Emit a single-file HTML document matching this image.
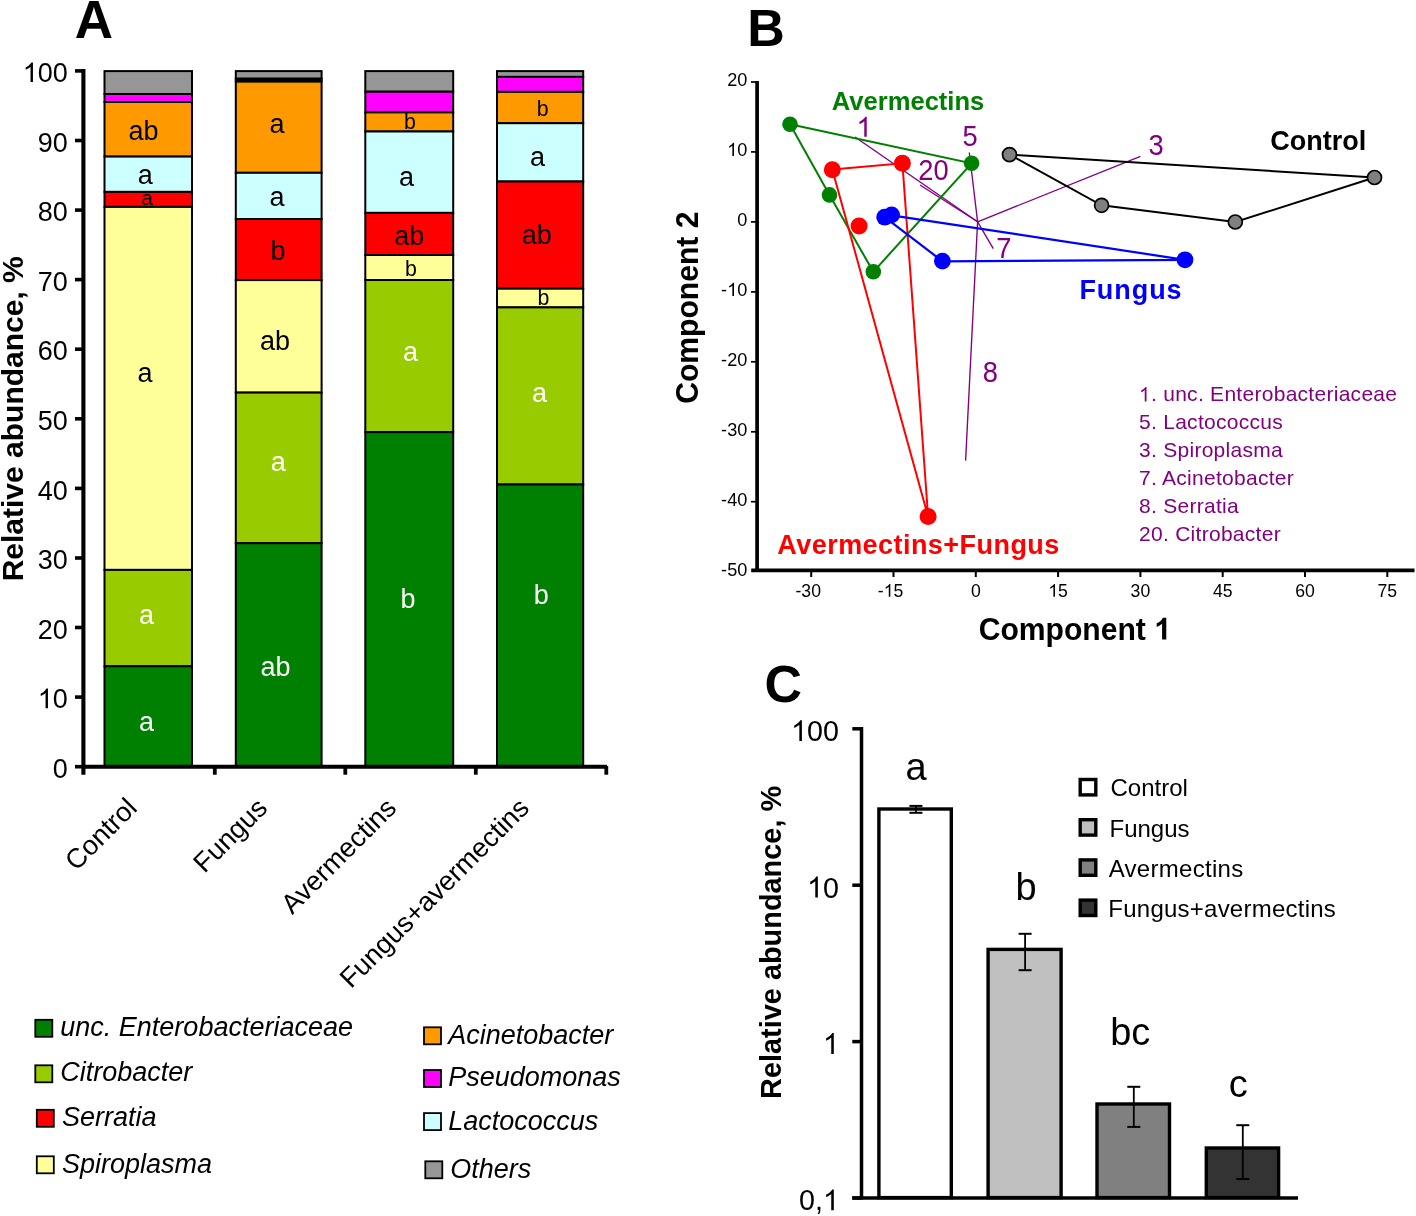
<!DOCTYPE html>
<html><head><meta charset="utf-8"><style>
html,body{margin:0;padding:0;background:#fff;}
body{width:1416px;height:1216px;overflow:hidden;}
svg{display:block;font-family:"Liberation Sans", sans-serif;will-change:transform;}
</style></head><body>
<svg width="1416" height="1216" viewBox="0 0 1416 1216">
<rect width="1416" height="1216" fill="#fff"/>
<rect x="104.5" y="71.1" width="87.5" height="22.9" fill="#969696" stroke="#000" stroke-width="2"/>
<rect x="104.5" y="94.0" width="87.5" height="8.0" fill="#FF00FF" stroke="#000" stroke-width="2"/>
<rect x="104.5" y="102.0" width="87.5" height="54.6" fill="#FF9900" stroke="#000" stroke-width="2"/>
<rect x="104.5" y="156.6" width="87.5" height="35.3" fill="#CCFFFF" stroke="#000" stroke-width="2"/>
<rect x="104.5" y="191.9" width="87.5" height="15.0" fill="#FF0000" stroke="#000" stroke-width="2"/>
<rect x="104.5" y="206.9" width="87.5" height="363.0" fill="#FFFF99" stroke="#000" stroke-width="2"/>
<rect x="104.5" y="569.9" width="87.5" height="96.4" fill="#99CC00" stroke="#000" stroke-width="2"/>
<rect x="104.5" y="666.3" width="87.5" height="99.7" fill="#008000" stroke="#000" stroke-width="2"/>
<rect x="235.8" y="71.1" width="85.8" height="7.7" fill="#969696" stroke="#000" stroke-width="2"/>
<rect x="235.8" y="78.8" width="85.8" height="2.6" fill="#FF00FF" stroke="#000" stroke-width="2"/>
<rect x="235.8" y="81.4" width="85.8" height="91.4" fill="#FF9900" stroke="#000" stroke-width="2"/>
<rect x="235.8" y="172.8" width="85.8" height="46.2" fill="#CCFFFF" stroke="#000" stroke-width="2"/>
<rect x="235.8" y="219.0" width="85.8" height="61.1" fill="#FF0000" stroke="#000" stroke-width="2"/>
<rect x="235.8" y="280.1" width="85.8" height="112.5" fill="#FFFF99" stroke="#000" stroke-width="2"/>
<rect x="235.8" y="392.6" width="85.8" height="150.6" fill="#99CC00" stroke="#000" stroke-width="2"/>
<rect x="235.8" y="543.2" width="85.8" height="222.8" fill="#008000" stroke="#000" stroke-width="2"/>
<rect x="235.8" y="77.8" width="85.8" height="4.6" fill="#000"/>
<rect x="365.3" y="71.1" width="87.9" height="20.6" fill="#969696" stroke="#000" stroke-width="2"/>
<rect x="365.3" y="91.7" width="87.9" height="20.7" fill="#FF00FF" stroke="#000" stroke-width="2"/>
<rect x="365.3" y="112.4" width="87.9" height="19.1" fill="#FF9900" stroke="#000" stroke-width="2"/>
<rect x="365.3" y="131.5" width="87.9" height="81.4" fill="#CCFFFF" stroke="#000" stroke-width="2"/>
<rect x="365.3" y="212.9" width="87.9" height="42.1" fill="#FF0000" stroke="#000" stroke-width="2"/>
<rect x="365.3" y="255.0" width="87.9" height="25.0" fill="#FFFF99" stroke="#000" stroke-width="2"/>
<rect x="365.3" y="280.0" width="87.9" height="152.1" fill="#99CC00" stroke="#000" stroke-width="2"/>
<rect x="365.3" y="432.1" width="87.9" height="333.9" fill="#008000" stroke="#000" stroke-width="2"/>
<rect x="497.0" y="71.1" width="86.2" height="5.8" fill="#969696" stroke="#000" stroke-width="2"/>
<rect x="497.0" y="76.9" width="86.2" height="15.0" fill="#FF00FF" stroke="#000" stroke-width="2"/>
<rect x="497.0" y="91.9" width="86.2" height="31.3" fill="#FF9900" stroke="#000" stroke-width="2"/>
<rect x="497.0" y="123.2" width="86.2" height="58.3" fill="#CCFFFF" stroke="#000" stroke-width="2"/>
<rect x="497.0" y="181.5" width="86.2" height="107.2" fill="#FF0000" stroke="#000" stroke-width="2"/>
<rect x="497.0" y="288.7" width="86.2" height="18.7" fill="#FFFF99" stroke="#000" stroke-width="2"/>
<rect x="497.0" y="307.4" width="86.2" height="177.1" fill="#99CC00" stroke="#000" stroke-width="2"/>
<rect x="497.0" y="484.5" width="86.2" height="281.5" fill="#008000" stroke="#000" stroke-width="2"/>
<text x="143.5" y="140.3" font-size="27" fill="#000" text-anchor="middle" >ab</text>
<text x="145.3" y="183.6" font-size="27" fill="#000" text-anchor="middle" >a</text>
<text x="147" y="205.2" font-size="21" fill="#000" text-anchor="middle" >a</text>
<text x="145" y="381.5" font-size="27" fill="#000" text-anchor="middle" >a</text>
<text x="146.6" y="624.2" font-size="27" fill="#fff" text-anchor="middle" >a</text>
<text x="146.6" y="730.7" font-size="27" fill="#fff" text-anchor="middle" >a</text>
<text x="277" y="132.8" font-size="27" fill="#000" text-anchor="middle" >a</text>
<text x="277" y="206.4" font-size="27" fill="#000" text-anchor="middle" >a</text>
<text x="278" y="259.9" font-size="27" fill="#000" text-anchor="middle" >b</text>
<text x="275" y="349.9" font-size="27" fill="#000" text-anchor="middle" >ab</text>
<text x="278.3" y="470.8" font-size="27" fill="#fff" text-anchor="middle" >a</text>
<text x="275.5" y="675.5" font-size="27" fill="#fff" text-anchor="middle" >ab</text>
<text x="409.9" y="128.7" font-size="21.3" fill="#000" text-anchor="middle" >b</text>
<text x="406.6" y="185.6" font-size="27" fill="#000" text-anchor="middle" >a</text>
<text x="409.2" y="245.1" font-size="27" fill="#000" text-anchor="middle" >ab</text>
<text x="411" y="275.6" font-size="21.3" fill="#000" text-anchor="middle" >b</text>
<text x="410.5" y="361.1" font-size="27" fill="#fff" text-anchor="middle" >a</text>
<text x="407.9" y="608.4" font-size="27" fill="#fff" text-anchor="middle" >b</text>
<text x="542.7" y="116.1" font-size="21.3" fill="#000" text-anchor="middle" >b</text>
<text x="537.6" y="165.8" font-size="27" fill="#000" text-anchor="middle" >a</text>
<text x="536.8" y="244.4" font-size="27" fill="#000" text-anchor="middle" >ab</text>
<text x="543.4" y="304.5" font-size="21.3" fill="#000" text-anchor="middle" >b</text>
<text x="539.5" y="401.9" font-size="27" fill="#fff" text-anchor="middle" >a</text>
<text x="541.3" y="603.9" font-size="27" fill="#fff" text-anchor="middle" >b</text>
<line x1="83.4" y1="69" x2="83.4" y2="774.7" stroke="#000" stroke-width="4.1"/>
<line x1="81.8" y1="766.7" x2="607" y2="766.7" stroke="#000" stroke-width="3.9"/>
<line x1="75" y1="766.7" x2="84" y2="766.7" stroke="#000" stroke-width="3.6"/>
<text transform="translate(67.8,777.9000000000001) scale(0.955,1)" x="0" y="0" font-size="28.28" fill="#000" text-anchor="end" >0</text>
<line x1="75" y1="697.1" x2="84" y2="697.1" stroke="#000" stroke-width="3.6"/>
<g transform="translate(67.8,708.32) scale(0.955,1)"><text x="0" y="0" font-size="28.28" fill="#000" text-anchor="end" > 0</text><path transform="translate(-31.46,0) scale(0.01401,-0.01338)" d="M763,0L583,0L583,1147Q518,1085 465,1054Q412,1023 359.5,992Q307,961 223,930L223,1104Q374,1175 430.5,1225.5Q487,1276 543.5,1326.5Q600,1377 647,1472L763,1472Z" fill="#000"/></g>
<line x1="75" y1="627.5" x2="84" y2="627.5" stroke="#000" stroke-width="3.6"/>
<text transform="translate(67.8,638.7400000000001) scale(0.955,1)" x="0" y="0" font-size="28.28" fill="#000" text-anchor="end" >20</text>
<line x1="75" y1="558.0" x2="84" y2="558.0" stroke="#000" stroke-width="3.6"/>
<text transform="translate(67.8,569.1600000000001) scale(0.955,1)" x="0" y="0" font-size="28.28" fill="#000" text-anchor="end" >30</text>
<line x1="75" y1="488.4" x2="84" y2="488.4" stroke="#000" stroke-width="3.6"/>
<text transform="translate(67.8,499.58000000000004) scale(0.955,1)" x="0" y="0" font-size="28.28" fill="#000" text-anchor="end" >40</text>
<line x1="75" y1="418.8" x2="84" y2="418.8" stroke="#000" stroke-width="3.6"/>
<text transform="translate(67.8,430.00000000000006) scale(0.955,1)" x="0" y="0" font-size="28.28" fill="#000" text-anchor="end" >50</text>
<line x1="75" y1="349.2" x2="84" y2="349.2" stroke="#000" stroke-width="3.6"/>
<text transform="translate(67.8,360.42) scale(0.955,1)" x="0" y="0" font-size="28.28" fill="#000" text-anchor="end" >60</text>
<line x1="75" y1="279.6" x2="84" y2="279.6" stroke="#000" stroke-width="3.6"/>
<text transform="translate(67.8,290.84000000000003) scale(0.955,1)" x="0" y="0" font-size="28.28" fill="#000" text-anchor="end" >70</text>
<line x1="75" y1="210.1" x2="84" y2="210.1" stroke="#000" stroke-width="3.6"/>
<text transform="translate(67.8,221.26000000000005) scale(0.955,1)" x="0" y="0" font-size="28.28" fill="#000" text-anchor="end" >80</text>
<line x1="75" y1="140.5" x2="84" y2="140.5" stroke="#000" stroke-width="3.6"/>
<text transform="translate(67.8,151.68) scale(0.955,1)" x="0" y="0" font-size="28.28" fill="#000" text-anchor="end" >90</text>
<line x1="75" y1="70.9" x2="84" y2="70.9" stroke="#000" stroke-width="3.6"/>
<g transform="translate(67.8,82.1000000000001) scale(0.955,1)"><text x="0" y="0" font-size="28.28" fill="#000" text-anchor="end" > 00</text><path transform="translate(-47.18,0) scale(0.01401,-0.01338)" d="M763,0L583,0L583,1147Q518,1085 465,1054Q412,1023 359.5,992Q307,961 223,930L223,1104Q374,1175 430.5,1225.5Q487,1276 543.5,1326.5Q600,1377 647,1472L763,1472Z" fill="#000"/></g>
<line x1="214.8" y1="766" x2="214.8" y2="774.7" stroke="#000" stroke-width="3.8"/>
<line x1="345.3" y1="766" x2="345.3" y2="774.7" stroke="#000" stroke-width="3.8"/>
<line x1="475.8" y1="766" x2="475.8" y2="774.7" stroke="#000" stroke-width="3.8"/>
<line x1="606.3" y1="766" x2="606.3" y2="774.7" stroke="#000" stroke-width="3.8"/>
<text transform="translate(23.4,418.8) rotate(-90)" font-size="30" font-weight="bold" text-anchor="middle">Relative abundance, %</text>
<text x="76" y="37.7" font-size="53" fill="#000" text-anchor="start" font-weight="bold" dx="-1.3">A</text>
<text transform="translate(138.5,809.5) rotate(-45)" font-size="27.3" text-anchor="end">Control</text>
<text transform="translate(269,809.5) rotate(-45)" font-size="27.3" text-anchor="end">Fungus</text>
<text transform="translate(398,809.5) rotate(-45)" font-size="27.3" text-anchor="end">Avermectins</text>
<text transform="translate(530.7,809.5) rotate(-45)" font-size="27.3" text-anchor="end">Fungus+avermectins</text>
<rect x="35.3" y="1019.8" width="17" height="17" fill="#008000" stroke="#000" stroke-width="1.8"/>
<text x="60.3" y="1036.2" font-size="27" fill="#000" text-anchor="start" font-style="italic" >unc. Enterobacteriaceae</text>
<rect x="35.3" y="1065.3" width="17" height="17" fill="#99CC00" stroke="#000" stroke-width="1.8"/>
<text x="60.3" y="1081.4" font-size="27" fill="#000" text-anchor="start" font-style="italic" >Citrobacter</text>
<rect x="36.8" y="1109.8" width="17" height="17" fill="#FF0000" stroke="#000" stroke-width="1.8"/>
<text x="61.9" y="1125.8" font-size="27" fill="#000" text-anchor="start" font-style="italic" >Serratia</text>
<rect x="36.8" y="1156.3" width="17" height="17" fill="#FFFF99" stroke="#000" stroke-width="1.8"/>
<text x="61.9" y="1172.7" font-size="27" fill="#000" text-anchor="start" font-style="italic" >Spiroplasma</text>
<rect x="424.0" y="1027.3" width="17" height="17" fill="#FF9900" stroke="#000" stroke-width="1.8"/>
<text x="448.2" y="1044.4" font-size="27" fill="#000" text-anchor="start" font-style="italic" >Acinetobacter</text>
<rect x="424.0" y="1070.0" width="17" height="17" fill="#FF00FF" stroke="#000" stroke-width="1.8"/>
<text x="448.2" y="1086.3" font-size="27" fill="#000" text-anchor="start" font-style="italic" >Pseudomonas</text>
<rect x="424.0" y="1113.1" width="17" height="17" fill="#CCFFFF" stroke="#000" stroke-width="1.8"/>
<text x="448.2" y="1130" font-size="27" fill="#000" text-anchor="start" font-style="italic" >Lactococcus</text>
<rect x="425.3" y="1161.3" width="17" height="17" fill="#969696" stroke="#000" stroke-width="1.8"/>
<text x="450.3" y="1177.6" font-size="27" fill="#000" text-anchor="start" font-style="italic" >Others</text>
<text x="747.3" y="45.5" font-size="52" fill="#000" text-anchor="start" font-weight="bold" >B</text>
<line x1="757.1" y1="81" x2="757.1" y2="572" stroke="#000" stroke-width="3.7"/>
<line x1="751.2" y1="570.4" x2="1414.5" y2="570.4" stroke="#000" stroke-width="3.6"/>
<line x1="751" y1="82.0" x2="757" y2="82.0" stroke="#000" stroke-width="1.7"/>
<text transform="translate(747.3,86.1) scale(0.955,1)" x="0" y="0" font-size="18.99" fill="#000" text-anchor="end" >20</text>
<line x1="751" y1="151.9" x2="757" y2="151.9" stroke="#000" stroke-width="1.7"/>
<g transform="translate(747.3,156.04999999999998) scale(0.955,1)"><text x="0" y="0" font-size="18.99" fill="#000" text-anchor="end" > 0</text><path transform="translate(-21.12,0) scale(0.00941,-0.00898)" d="M763,0L583,0L583,1147Q518,1085 465,1054Q412,1023 359.5,992Q307,961 223,930L223,1104Q374,1175 430.5,1225.5Q487,1276 543.5,1326.5Q600,1377 647,1472L763,1472Z" fill="#000"/></g>
<line x1="751" y1="221.9" x2="757" y2="221.9" stroke="#000" stroke-width="1.7"/>
<text transform="translate(747.3,226.0) scale(0.955,1)" x="0" y="0" font-size="18.99" fill="#000" text-anchor="end" >0</text>
<line x1="751" y1="291.9" x2="757" y2="291.9" stroke="#000" stroke-width="1.7"/>
<g transform="translate(747.3,295.95000000000005) scale(0.955,1)"><text x="0" y="0" font-size="18.99" fill="#000" text-anchor="end" >- 0</text><path transform="translate(-21.12,0) scale(0.00941,-0.00898)" d="M763,0L583,0L583,1147Q518,1085 465,1054Q412,1023 359.5,992Q307,961 223,930L223,1104Q374,1175 430.5,1225.5Q487,1276 543.5,1326.5Q600,1377 647,1472L763,1472Z" fill="#000"/></g>
<line x1="751" y1="361.8" x2="757" y2="361.8" stroke="#000" stroke-width="1.7"/>
<text transform="translate(747.3,365.90000000000003) scale(0.955,1)" x="0" y="0" font-size="18.99" fill="#000" text-anchor="end" >-20</text>
<line x1="751" y1="431.8" x2="757" y2="431.8" stroke="#000" stroke-width="1.7"/>
<text transform="translate(747.3,435.85) scale(0.955,1)" x="0" y="0" font-size="18.99" fill="#000" text-anchor="end" >-30</text>
<line x1="751" y1="501.7" x2="757" y2="501.7" stroke="#000" stroke-width="1.7"/>
<text transform="translate(747.3,505.80000000000007) scale(0.955,1)" x="0" y="0" font-size="18.99" fill="#000" text-anchor="end" >-40</text>
<text transform="translate(747.3,575.75) scale(0.955,1)" x="0" y="0" font-size="18.99" fill="#000" text-anchor="end" >-50</text>
<line x1="811.2" y1="570" x2="811.2" y2="577" stroke="#000" stroke-width="2"/>
<text transform="translate(808.2399999999999,596.8) scale(0.955,1)" x="0" y="0" font-size="18.47" fill="#000" text-anchor="middle" >-30</text>
<line x1="893.5" y1="570" x2="893.5" y2="577" stroke="#000" stroke-width="2"/>
<g transform="translate(890.5449999999998,596.8) scale(0.955,1)"><text x="0" y="0" font-size="18.47" fill="#000" text-anchor="middle" >- 5</text><path transform="translate(-7.20,0) scale(0.00915,-0.00874)" d="M763,0L583,0L583,1147Q518,1085 465,1054Q412,1023 359.5,992Q307,961 223,930L223,1104Q374,1175 430.5,1225.5Q487,1276 543.5,1326.5Q600,1377 647,1472L763,1472Z" fill="#000"/></g>
<line x1="975.8" y1="570" x2="975.8" y2="577" stroke="#000" stroke-width="2"/>
<text transform="translate(975.8,596.8) scale(0.955,1)" x="0" y="0" font-size="18.47" fill="#000" text-anchor="middle" >0</text>
<line x1="1058.1" y1="570" x2="1058.1" y2="577" stroke="#000" stroke-width="2"/>
<g transform="translate(1058.105,596.8) scale(0.955,1)"><text x="0" y="0" font-size="18.47" fill="#000" text-anchor="middle" > 5</text><path transform="translate(-10.27,0) scale(0.00915,-0.00874)" d="M763,0L583,0L583,1147Q518,1085 465,1054Q412,1023 359.5,992Q307,961 223,930L223,1104Q374,1175 430.5,1225.5Q487,1276 543.5,1326.5Q600,1377 647,1472L763,1472Z" fill="#000"/></g>
<line x1="1140.4" y1="570" x2="1140.4" y2="577" stroke="#000" stroke-width="2"/>
<text transform="translate(1140.4099999999999,596.8) scale(0.955,1)" x="0" y="0" font-size="18.47" fill="#000" text-anchor="middle" >30</text>
<line x1="1222.7" y1="570" x2="1222.7" y2="577" stroke="#000" stroke-width="2"/>
<text transform="translate(1222.715,596.8) scale(0.955,1)" x="0" y="0" font-size="18.47" fill="#000" text-anchor="middle" >45</text>
<line x1="1305.0" y1="570" x2="1305.0" y2="577" stroke="#000" stroke-width="2"/>
<text transform="translate(1305.02,596.8) scale(0.955,1)" x="0" y="0" font-size="18.47" fill="#000" text-anchor="middle" >60</text>
<line x1="1387.3" y1="570" x2="1387.3" y2="577" stroke="#000" stroke-width="2"/>
<text transform="translate(1387.325,596.8) scale(0.955,1)" x="0" y="0" font-size="18.47" fill="#000" text-anchor="middle" >75</text>
<text transform="translate(978.66,639.6) scale(0.956,1)" x="0" y="0" font-size="31.5" fill="#000" text-anchor="start" font-weight="bold" >Component</text>
<path transform="translate(1153.55,639.6) scale(0.01487,-0.01487)" d="M856,0L575,0L575,1059Q421,915 212,846L212,1101Q322,1137 451,1237Q580,1337 628,1466L856,1466Z" fill="#000"/>
<text transform="translate(697.8,307.7) rotate(-90) scale(0.956,1)" font-size="31.5" font-weight="bold" text-anchor="middle">Component 2</text>
<line x1="977.6" y1="221.8" x2="855" y2="137" stroke="#800080" stroke-width="1.35"/>
<line x1="977.6" y1="221.8" x2="920" y2="185" stroke="#800080" stroke-width="1.35"/>
<line x1="977.6" y1="221.8" x2="969.3" y2="152.5" stroke="#800080" stroke-width="1.35"/>
<line x1="977.6" y1="221.8" x2="993.3" y2="248.6" stroke="#800080" stroke-width="1.35"/>
<line x1="977.6" y1="221.8" x2="1140.4" y2="156.4" stroke="#800080" stroke-width="1.35"/>
<line x1="977.6" y1="221.8" x2="965.6" y2="460.6" stroke="#800080" stroke-width="1.35"/>
<polyline points="790,124.3 971.6,163.3 873.3,271.8 829.5,194.9 790,124.3" fill="none" stroke="#008000" stroke-width="2.0"/>
<polyline points="832.3,169.5 902.4,163.3 928.1,516.6 832.3,169.5" fill="none" stroke="#FF0000" stroke-width="2.0"/>
<polyline points="891.6,215.3 1185,259.8 942.5,261.3 884.7,217.2" fill="none" stroke="#0000FF" stroke-width="2.2"/>
<polyline points="1009.5,154.6 1374.5,177.5 1235.3,222 1101.6,205.3 1009.5,154.6" fill="none" stroke="#000" stroke-width="1.9"/>
<circle cx="790" cy="124.3" r="7.8" fill="#008000"/>
<circle cx="971.6" cy="163.3" r="7.8" fill="#008000"/>
<circle cx="873.3" cy="271.8" r="7.8" fill="#008000"/>
<circle cx="829.5" cy="194.9" r="7.8" fill="#008000"/>
<circle cx="832.3" cy="169.7" r="8.5" fill="#FF0000"/>
<circle cx="902.4" cy="163.3" r="8.5" fill="#FF0000"/>
<circle cx="859.1" cy="226" r="8.5" fill="#FF0000"/>
<circle cx="928.1" cy="516.6" r="8.5" fill="#FF0000"/>
<circle cx="884.7" cy="217.2" r="8.4" fill="#0000FF"/>
<circle cx="891.6" cy="214.9" r="8.4" fill="#0000FF"/>
<circle cx="942.4" cy="261.1" r="8.4" fill="#0000FF"/>
<circle cx="1185" cy="259.8" r="8.4" fill="#0000FF"/>
<circle cx="1009.5" cy="154.6" r="7.0" fill="#808080" stroke="#000" stroke-width="1.7"/>
<circle cx="1374.5" cy="177.5" r="7.0" fill="#808080" stroke="#000" stroke-width="1.7"/>
<circle cx="1235.3" cy="222" r="7.0" fill="#808080" stroke="#000" stroke-width="1.7"/>
<circle cx="1101.6" cy="205.3" r="7.0" fill="#808080" stroke="#000" stroke-width="1.7"/>
<text x="831.8" y="110.2" font-size="26.5" fill="#008000" text-anchor="start" font-weight="bold" textLength="152.5" lengthAdjust="spacingAndGlyphs">Avermectins</text>
<text x="1270.3" y="149.6" font-size="27" fill="#000" text-anchor="start" font-weight="bold" >Control</text>
<text x="1079.4" y="298.5" font-size="27" fill="#0000FF" text-anchor="start" font-weight="bold" textLength="102.2">Fungus</text>
<text x="777.3" y="553.5" font-size="27" fill="#FF0000" text-anchor="start" font-weight="bold" textLength="282">Avermectins+Fungus</text>
<g transform="translate(856.4,136.7) scale(0.955,1)"><text x="0" y="0" font-size="28.59" fill="#800080" text-anchor="start" > </text><path transform="translate(0.00,0) scale(0.01416,-0.01353)" d="M763,0L583,0L583,1147Q518,1085 465,1054Q412,1023 359.5,992Q307,961 223,930L223,1104Q374,1175 430.5,1225.5Q487,1276 543.5,1326.5Q600,1377 647,1472L763,1472Z" fill="#800080"/></g>
<text transform="translate(962.6,146.2) scale(0.955,1)" x="0" y="0" font-size="28.59" fill="#800080" text-anchor="start" >5</text>
<text transform="translate(918.3,180.1) scale(0.955,1)" x="0" y="0" font-size="28.59" fill="#800080" text-anchor="start" >20</text>
<text transform="translate(996.2,258.1) scale(0.955,1)" x="0" y="0" font-size="28.59" fill="#800080" text-anchor="start" >7</text>
<text transform="translate(1148.6,155.2) scale(0.955,1)" x="0" y="0" font-size="28.59" fill="#800080" text-anchor="start" >3</text>
<text transform="translate(982.7,381.8) scale(0.955,1)" x="0" y="0" font-size="28.59" fill="#800080" text-anchor="start" >8</text>
<g transform="translate(1139.0,401.4) scale(1.0,1)"><text x="0" y="0" font-size="21" fill="#800080" text-anchor="start" letter-spacing="0.28"> . unc. Enterobacteriaceae</text><path transform="translate(0.00,0) scale(0.00984,-0.00984)" d="M763,0L583,0L583,1147Q518,1085 465,1054Q412,1023 359.5,992Q307,961 223,930L223,1104Q374,1175 430.5,1225.5Q487,1276 543.5,1326.5Q600,1377 647,1472L763,1472Z" fill="#800080"/></g>
<text x="1139.0" y="429.34999999999997" font-size="21" fill="#800080" text-anchor="start" letter-spacing="0.28">5. Lactococcus</text>
<text x="1139.0" y="457.29999999999995" font-size="21" fill="#800080" text-anchor="start" letter-spacing="0.28">3. Spiroplasma</text>
<text x="1139.0" y="485.25" font-size="21" fill="#800080" text-anchor="start" letter-spacing="0.28">7. Acinetobacter</text>
<text x="1139.0" y="513.1999999999999" font-size="21" fill="#800080" text-anchor="start" letter-spacing="0.28">8. Serratia</text>
<text x="1139.0" y="541.15" font-size="21" fill="#800080" text-anchor="start" letter-spacing="0.28">20. Citrobacter</text>
<text x="767" y="702.3" font-size="52" fill="#000" text-anchor="start" font-weight="bold" dx="-2.5">C</text>
<line x1="861.5" y1="727" x2="861.5" y2="1199.5" stroke="#000" stroke-width="3.5"/>
<line x1="852.3" y1="1198.0" x2="1298" y2="1198.0" stroke="#000" stroke-width="3.6"/>
<line x1="852.3" y1="728.8" x2="861" y2="728.8" stroke="#000" stroke-width="3.5"/>
<g transform="translate(838.9,741.0999999999999) scale(0.955,1)"><text x="0" y="0" font-size="30.03" fill="#000" text-anchor="end" > 00</text><path transform="translate(-50.10,0) scale(0.01488,-0.01421)" d="M763,0L583,0L583,1147Q518,1085 465,1054Q412,1023 359.5,992Q307,961 223,930L223,1104Q374,1175 430.5,1225.5Q487,1276 543.5,1326.5Q600,1377 647,1472L763,1472Z" fill="#000"/></g>
<line x1="852.3" y1="885.2" x2="861" y2="885.2" stroke="#000" stroke-width="3.5"/>
<g transform="translate(838.9,897.5) scale(0.955,1)"><text x="0" y="0" font-size="30.03" fill="#000" text-anchor="end" > 0</text><path transform="translate(-33.40,0) scale(0.01488,-0.01421)" d="M763,0L583,0L583,1147Q518,1085 465,1054Q412,1023 359.5,992Q307,961 223,930L223,1104Q374,1175 430.5,1225.5Q487,1276 543.5,1326.5Q600,1377 647,1472L763,1472Z" fill="#000"/></g>
<line x1="852.3" y1="1041.6" x2="861" y2="1041.6" stroke="#000" stroke-width="3.5"/>
<g transform="translate(838.9,1053.8999999999999) scale(0.955,1)"><text x="0" y="0" font-size="30.03" fill="#000" text-anchor="end" > </text><path transform="translate(-16.70,0) scale(0.01488,-0.01421)" d="M763,0L583,0L583,1147Q518,1085 465,1054Q412,1023 359.5,992Q307,961 223,930L223,1104Q374,1175 430.5,1225.5Q487,1276 543.5,1326.5Q600,1377 647,1472L763,1472Z" fill="#000"/></g>
<line x1="852.3" y1="1198.0" x2="861" y2="1198.0" stroke="#000" stroke-width="3.5"/>
<g transform="translate(838.9,1210.3) scale(0.955,1)"><text x="0" y="0" font-size="30.03" fill="#000" text-anchor="end" >0, </text><path transform="translate(-16.70,0) scale(0.01488,-0.01421)" d="M763,0L583,0L583,1147Q518,1085 465,1054Q412,1023 359.5,992Q307,961 223,930L223,1104Q374,1175 430.5,1225.5Q487,1276 543.5,1326.5Q600,1377 647,1472L763,1472Z" fill="#000"/></g>
<text transform="translate(780.5,942.4) rotate(-90)" font-size="28.9" font-weight="bold" text-anchor="middle">Relative abundance, %</text>
<rect x="878.9" y="809.0" width="72.4" height="388.6" fill="#FFFFFF" stroke="#000" stroke-width="3.4"/>
<rect x="988.1" y="949.4" width="73.0" height="248.2" fill="#C0C0C0" stroke="#000" stroke-width="3.4"/>
<rect x="1097.0" y="1104.0" width="72.5" height="93.6" fill="#808080" stroke="#000" stroke-width="3.4"/>
<rect x="1206.3" y="1148.0" width="72.3" height="49.6" fill="#333333" stroke="#000" stroke-width="3.4"/>
<line x1="915.9" y1="805.9" x2="915.9" y2="812.8" stroke="#000" stroke-width="1.8"/>
<line x1="909.4" y1="805.9" x2="922.4" y2="805.9" stroke="#000" stroke-width="2"/>
<line x1="909.4" y1="812.8" x2="922.4" y2="812.8" stroke="#000" stroke-width="2"/>
<line x1="1025.1" y1="933.8" x2="1025.1" y2="970.2" stroke="#000" stroke-width="1.8"/>
<line x1="1018.5999999999999" y1="933.8" x2="1031.6" y2="933.8" stroke="#000" stroke-width="2"/>
<line x1="1018.5999999999999" y1="970.2" x2="1031.6" y2="970.2" stroke="#000" stroke-width="2"/>
<line x1="1133.8" y1="1086.8" x2="1133.8" y2="1126.9" stroke="#000" stroke-width="1.8"/>
<line x1="1127.3" y1="1086.8" x2="1140.3" y2="1086.8" stroke="#000" stroke-width="2"/>
<line x1="1127.3" y1="1126.9" x2="1140.3" y2="1126.9" stroke="#000" stroke-width="2"/>
<line x1="1242.8" y1="1125.2" x2="1242.8" y2="1179" stroke="#000" stroke-width="1.8"/>
<line x1="1236.3" y1="1125.2" x2="1249.3" y2="1125.2" stroke="#000" stroke-width="2"/>
<line x1="1236.3" y1="1179" x2="1249.3" y2="1179" stroke="#000" stroke-width="2"/>
<text x="916.1" y="779.5" font-size="38" fill="#000" text-anchor="middle" >a</text>
<text x="1026" y="899.7" font-size="38" fill="#000" text-anchor="middle" >b</text>
<text x="1130.3" y="1045" font-size="38" fill="#000" text-anchor="middle" >bc</text>
<text x="1238.3" y="1097.4" font-size="38" fill="#000" text-anchor="middle" >c</text>
<rect x="1080.2" y="779.5" width="15.6" height="15.4" fill="#FFFFFF" stroke="#000" stroke-width="3.4"/>
<text x="1110.5" y="796.3" font-size="24" fill="#000" text-anchor="start" >Control</text>
<rect x="1080.2" y="819.7" width="15.6" height="15.4" fill="#C0C0C0" stroke="#000" stroke-width="3.4"/>
<text x="1109.5" y="836.5" font-size="24" fill="#000" text-anchor="start" >Fungus</text>
<rect x="1080.2" y="859.9" width="15.6" height="15.4" fill="#808080" stroke="#000" stroke-width="3.4"/>
<text x="1108.7" y="876.6999999999999" font-size="24" fill="#000" text-anchor="start" textLength="134.5">Avermectins</text>
<rect x="1080.2" y="900.1" width="15.6" height="15.4" fill="#333333" stroke="#000" stroke-width="3.4"/>
<text x="1108.3" y="916.9" font-size="24" fill="#000" text-anchor="start" textLength="227.5">Fungus+avermectins</text>
</svg>
</body></html>
